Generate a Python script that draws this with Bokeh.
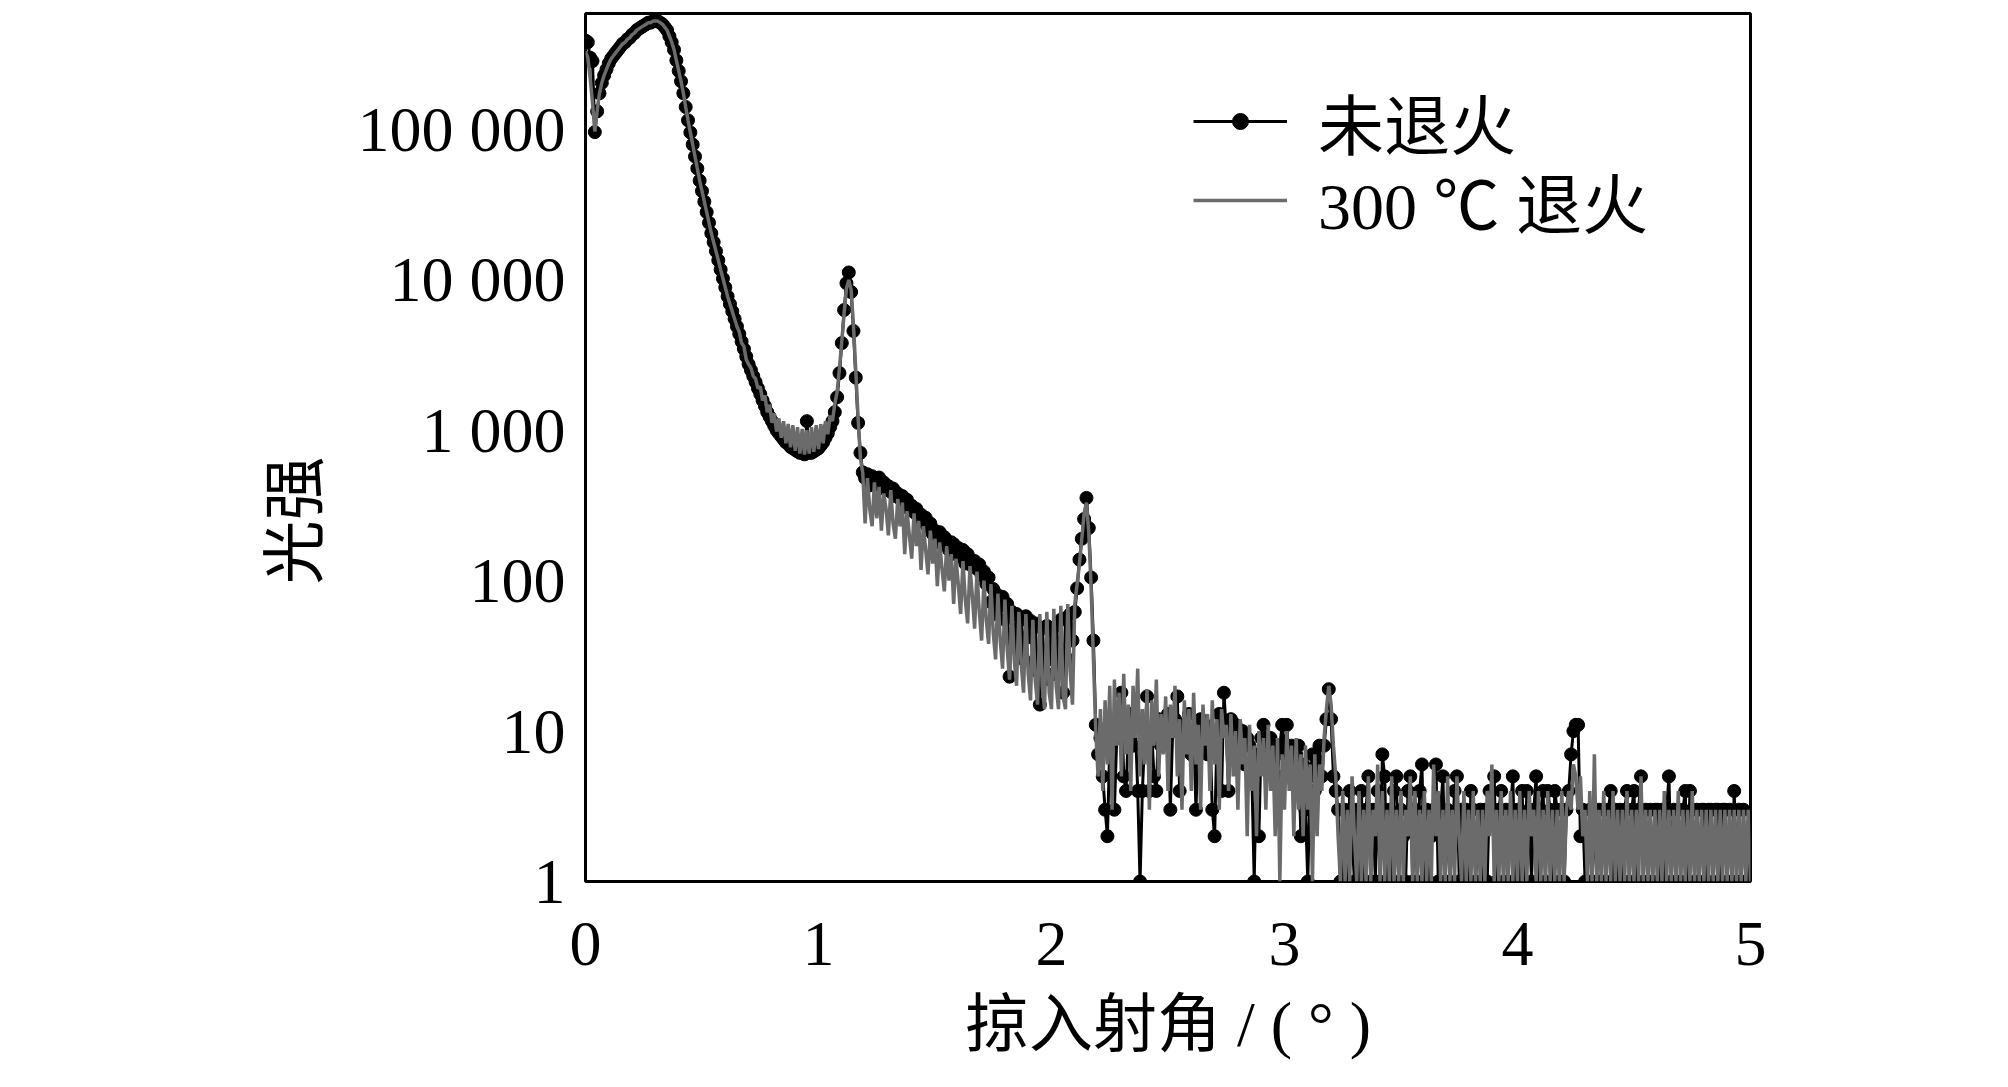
import math
from bokeh.plotting import figure
from bokeh.models import FixedTicker, Range1d, Legend, LegendItem, Title, ColumnDataSource
from bokeh.embed import file_html
from bokeh.resources import INLINE

# ---------------- data ----------------
ANGLE_START = 0.0          # degrees
ANGLE_STEP = 0.01          # degrees per sample

# 未退火 (as-deposited) intensity, one value per 0.01 deg, 0.00 .. 5.00
untreated = [
    390000, 380000, 300000, 285000, 96000, 132000, 174000, 204000, 229000, 251000,
    275000, 295000, 309000, 324000, 339000, 355000, 372000, 380000, 398000, 407000,
    427000, 437000, 457000, 468000, 479000, 490000, 501000, 513000, 513000, 525000,
    525000, 525000, 513000, 501000, 479000, 457000, 417000, 380000, 339000, 288000,
    245000, 209000, 174000, 141000, 115000, 95500, 79400, 66100, 55000, 45700,
    38900, 33100, 28200, 24000, 20400, 17800, 15500, 13500, 11700, 10200,
    8900, 7760, 6900, 6170, 5500, 4900, 4370, 3890, 3470, 3090,
    2750, 2510, 2290, 2090, 1900, 1740, 1580, 1450, 1320, 1230,
    1150, 1070, 1000, 955, 912, 870, 832, 813, 776, 759,
    741, 724, 708, 708, 692, 1150, 708, 708, 724, 741,
    759, 794, 832, 891, 955, 1050, 1150, 1320, 1660, 2400,
    3800, 6300, 9500, 11200, 8300, 4570, 2240, 1120, 708, 525,
    480, 510, 430, 495, 470, 440, 485, 420, 450, 400,
    425, 390, 410, 365, 380, 350, 365, 320, 345, 300,
    315, 285, 300, 260, 275, 245, 262, 225, 240, 205,
    215, 200, 210, 175, 195, 185, 160, 180, 175, 150,
    165, 145, 160, 130, 150, 140, 125, 135, 120, 128,
    108, 115, 95, 105, 72, 88, 60, 80, 68, 78,
    55, 70, 23, 62, 40, 60, 35, 55, 30, 58,
    42, 54, 28, 52, 25, 15, 48, 22, 50, 30,
    46, 24, 50, 28, 55, 18, 56, 30, 60, 40,
    62, 89, 138, 190, 257, 355, 224, 105, 40, 11,
    7, 9, 5, 3, 2, 8, 11, 3, 9, 12,
    18, 5, 4, 10, 13, 8, 11, 4, 1, 4,
    9, 17, 4, 10, 5, 4, 12, 8, 11, 9,
    13, 3, 10, 12, 17, 4, 9, 11, 8, 13,
    7, 10, 3, 9, 12, 8, 11, 7, 10, 3,
    2, 9, 13, 4, 18, 10, 4, 12, 8, 11,
    7, 9, 10, 6, 9, 8, 5, 1, 7, 2,
    9, 11, 8, 9, 9, 6, 7, 5, 8, 11,
    7, 11, 6, 8, 5, 7, 8, 2, 6, 3,
    1, 5, 7, 4, 6, 8, 5, 8, 12, 19,
    12, 5, 4, 3, 1, 1, 3, 1, 4, 2,
    1, 3, 1, 4, 1, 3, 5, 1, 3, 1,
    4, 1, 7, 5, 1, 3, 1, 4, 5, 1,
    3, 2, 1, 4, 5, 1, 3, 1, 4, 6,
    1, 3, 1, 2, 3, 6, 1, 3, 5, 1,
    3, 1, 2, 4, 5, 1, 3, 1, 3, 1,
    4, 3, 1, 2, 3, 1, 3, 1, 4, 3,
    5, 1, 3, 4, 1, 3, 1, 3, 5, 1,
    3, 1, 4, 1, 4, 3, 1, 3, 5, 1,
    3, 4, 1, 4, 3, 1, 4, 3, 1, 3,
    1, 3, 4, 7, 10, 11, 11, 2, 3, 1,
    1, 3, 1, 3, 1, 3, 1, 3, 1, 3,
    4, 1, 3, 1, 3, 1, 3, 4, 1, 3,
    4, 1, 3, 5, 1, 3, 1, 3, 1, 3,
    3, 1, 3, 1, 3, 5, 1, 3, 1, 3,
    1, 3, 4, 1, 4, 3, 1, 3, 1, 3,
    3, 1, 3, 3, 1, 3, 3, 1, 3, 3,
    1, 3, 1, 4, 1, 3, 1, 3, 1, 1,
    2,
]

# 300 ℃ 退火 (annealed) intensity, same angles
annealed = [
    330000, 300000, 220000, 150000, 97000, 132000, 174000, 204000, 229000, 251000,
    275000, 295000, 309000, 324000, 339000, 355000, 372000, 380000, 398000, 407000,
    427000, 437000, 457000, 468000, 479000, 490000, 501000, 513000, 513000, 525000,
    525000, 525000, 513000, 501000, 479000, 457000, 417000, 380000, 339000, 288000,
    245000, 209000, 174000, 141000, 115000, 95500, 79400, 66100, 55000, 45700,
    38900, 33100, 28200, 24000, 20400, 17800, 15500, 13500, 11700, 10200,
    8900, 7760, 6900, 6170, 5500, 4900, 4500, 3800, 3600, 2950,
    2750, 2600, 2290, 2200, 1900, 1950, 1580, 1700, 1320, 1480,
    1120, 1300, 980, 1200, 890, 1150, 820, 1100, 770, 1080,
    730, 1050, 700, 1020, 690, 1000, 700, 1050, 720, 1080,
    750, 1100, 820, 1150, 940, 1250, 1150, 1500, 1800, 2600,
    3900, 6000, 8800, 10000, 8600, 5000, 2500, 1200, 650, 520,
    240, 480, 300, 230, 450, 260, 420, 215, 380, 300,
    200, 400, 240, 190, 350, 230, 330, 150, 290, 200,
    140, 280, 170, 250, 118, 230, 160, 110, 215, 130,
    190, 92, 180, 120, 85, 170, 100, 150, 70, 140,
    95, 60, 135, 75, 52, 125, 80, 48, 115, 62,
    40, 100, 55, 38, 95, 45, 30, 82, 40, 26,
    75, 35, 22, 68, 30, 20, 62, 28, 18, 60,
    24, 16, 55, 22, 15, 60, 20, 14, 62, 18,
    14, 65, 20, 14, 68, 17, 14, 70, 25, 15,
    70, 95, 130, 190, 280, 330, 210, 90, 30, 10,
    5, 14, 4, 16, 6, 20, 3, 22, 8, 18,
    5, 24, 7, 15, 4, 20, 9, 26, 5, 14,
    6, 19, 3, 16, 8, 22, 5, 13, 7, 17,
    4, 15, 9, 20, 5, 12, 3, 16, 7, 14,
    4, 18, 6, 11, 3, 15, 8, 13, 4, 16,
    6, 12, 3, 14, 9, 11, 4, 13, 5, 10,
    3, 12, 6, 9, 2, 11, 4, 8, 2, 10,
    5, 9, 3, 11, 4, 8, 2, 9, 1, 7,
    3, 10, 4, 8, 2, 9, 3, 7, 2, 8,
    3, 6, 1, 7, 2, 6, 4, 9, 14, 20,
    15, 8, 5, 2, 1, 4, 1, 3, 1, 5,
    2, 1, 4, 1, 3, 1, 5, 1, 3, 2,
    6, 1, 4, 1, 3, 1, 5, 1, 3, 1,
    4, 1, 3, 2, 5, 1, 4, 1, 3, 1,
    4, 1, 3, 1, 6, 2, 4, 1, 3, 1,
    5, 1, 3, 1, 5, 2, 1, 4, 1, 3,
    1, 4, 1, 3, 1, 3, 1, 4, 2, 6,
    1, 3, 1, 4, 1, 3, 1, 4, 1, 3,
    1, 4, 1, 3, 1, 4, 2, 3, 1, 4,
    1, 3, 1, 4, 1, 3, 1, 3, 1, 4,
    1, 3, 4, 3, 6, 5, 3, 5, 2, 3,
    1, 4, 1, 7, 1, 3, 1, 4, 1, 3,
    1, 4, 1, 3, 1, 3, 1, 4, 1, 3,
    1, 3, 1, 5, 1, 3, 1, 3, 1, 3,
    1, 3, 1, 4, 1, 3, 1, 3, 1, 4,
    1, 3, 1, 3, 1, 4, 1, 3, 1, 3,
    1, 3, 1, 3, 1, 3, 1, 3, 1, 3,
    1, 3, 1, 3, 1, 3, 1, 3, 1, 3,
    1,
]

series_names = ["未退火", "300 ℃ 退火"]
x_ticks = [0, 1, 2, 3, 4, 5]
y_ticks = [1, 10, 100, 1000, 10000, 100000]
y_tick_labels = ["1", "10", "100", "1 000", "10 000", "100 000"]
x_title = "掠入射角 / ( ° )"
y_title = "光强"

assert len(untreated) == len(annealed), (len(untreated), len(annealed))
angle = [round(ANGLE_START + i * ANGLE_STEP, 2) for i in range(len(untreated))]

src = ColumnDataSource(dict(angle=angle, untreated=untreated, annealed=annealed))

# ---------------- figure ----------------
SERIF = "Liberation Serif"
MIXED = "'Liberation Serif', 'Noto Sans CJK SC'"

p = figure(
    width=1992, height=1070,
    x_range=Range1d(0, 5), y_range=Range1d(1, 590000),
    y_axis_type="log",
    output_backend="svg", toolbar_location=None,
    min_border_left=585, min_border_right=242,
    min_border_top=13, min_border_bottom=189,
)
p.background_fill_color = "white"
p.border_fill_color = "white"
p.outline_line_color = "black"
p.outline_line_width = 3
p.xgrid.visible = False
p.ygrid.visible = False

l_black = p.line("angle", "untreated", source=src, line_color="black", line_width=3)
s_black = p.scatter("angle", "untreated", source=src, marker="circle", size=13,
                    fill_color="black", line_color="black")
l_grey = p.line("angle", "annealed", source=src, line_color="#6b6b6b", line_width=3.5)

for ax in (p.xaxis[0], p.yaxis[0]):
    ax.axis_line_color = None
    ax.major_tick_line_color = None
    ax.minor_tick_line_color = None
    ax.major_tick_out = 0
    ax.major_tick_in = 0
    ax.minor_tick_out = 0
    ax.major_label_text_font = SERIF
    ax.major_label_text_font_size = "64px"
    ax.major_label_text_color = "black"

p.xaxis.ticker = FixedTicker(ticks=x_ticks)
p.xaxis.major_label_standoff = 41
p.xaxis.axis_label = x_title
p.xaxis.axis_label_text_font = MIXED
p.xaxis.axis_label_text_font_size = "64px"
p.xaxis.axis_label_text_font_style = "normal"
p.xaxis.axis_label_text_color = "black"
p.xaxis.axis_label_standoff = 21

p.yaxis.ticker = FixedTicker(ticks=y_ticks)
p.yaxis.major_label_overrides = {float(t): s for t, s in zip(y_ticks, y_tick_labels)}
p.yaxis.major_label_standoff = 20

ytitle = Title(text=y_title, align="left", offset=297, vertical_align="middle",
               standoff=45, text_font=MIXED, text_font_size="64px",
               text_font_style="normal", text_color="black")
p.add_layout(ytitle, "left")

legend_style = dict(
    border_line_color=None, background_fill_alpha=0,
    padding=0, margin=0, spacing=0,
    glyph_width=94, glyph_height=40, label_standoff=31,
    label_text_font=MIXED, label_text_font_size="66px", label_text_color="black",
)
legend1 = Legend(items=[LegendItem(label=series_names[0], renderers=[l_black, s_black])],
                 location=(608, 712), **legend_style)
legend2 = Legend(items=[LegendItem(label=series_names[1], renderers=[l_grey])],
                 location=(608, 633), **legend_style)
p.add_layout(legend1)
p.add_layout(legend2)

open("out.html", "w").write(file_html(p, INLINE))
